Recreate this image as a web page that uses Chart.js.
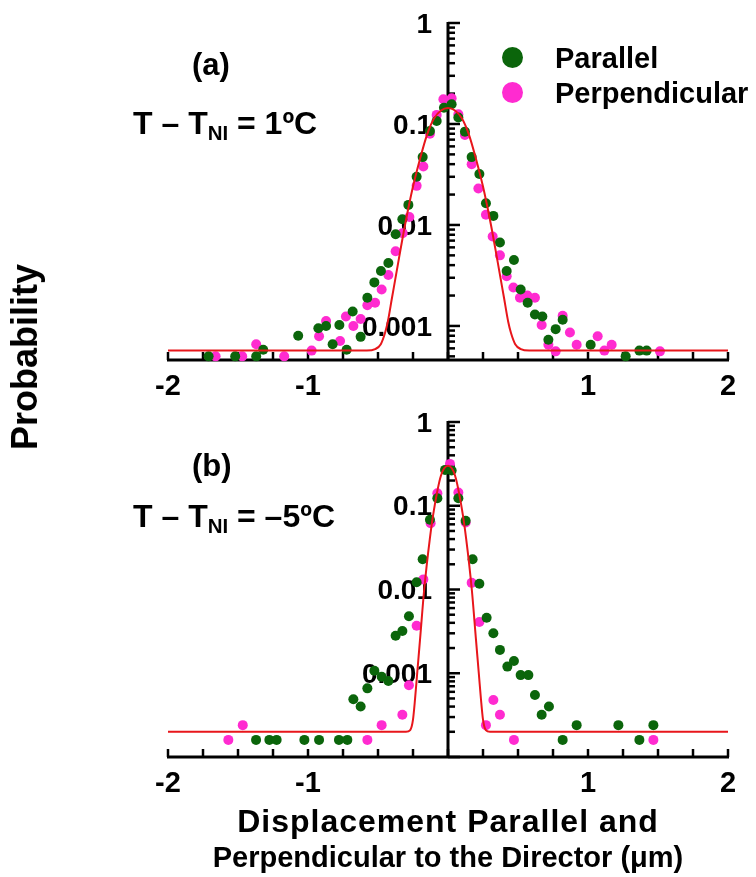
<!DOCTYPE html>
<html>
<head>
<meta charset="utf-8">
<script src="https://cdn.jsdelivr.net/npm/chart.js@4.4.1/dist/chart.umd.min.js"></script>
<style>
  html, body { margin: 0; padding: 0; background: #fff; }
  #page { position: relative; width: 756px; height: 877px; overflow: hidden;
          font-family: "Liberation Sans", Arial, sans-serif; font-weight: bold; color: #000; }
  canvas { position: absolute; left: 0; }
  .txt { position: absolute; white-space: nowrap; line-height: 1; }
  .txt sub { font-size: 0.64em; vertical-align: -0.28em; line-height: 0; }
  .dot { position: absolute; width: 21px; height: 21px; border-radius: 50%; }
</style>
</head>
<body>
<div id="page">
  <canvas id="chartA" width="756" height="410" style="top:0px"></canvas>
  <canvas id="chartB" width="756" height="415" style="top:395px"></canvas>

  <div class="txt" style="left:192px; top:49px; font-size:31px">(a)</div>
  <div class="txt" style="left:133px; top:107px; font-size:32px">T – T<sub>NI</sub> = 1ºC</div>
  <div class="txt" style="left:192px; top:450px; font-size:31px">(b)</div>
  <div class="txt" style="left:133px; top:500px; font-size:32px">T – T<sub>NI</sub> = –5ºC</div>

  <div class="dot" style="left:502px; top:47px; background:#0b650b"></div>
  <div class="txt" style="left:555px; top:44px; font-size:29px">Parallel</div>
  <div class="dot" style="left:502px; top:82px; background:#ff2bd0"></div>
  <div class="txt" style="left:555px; top:79px; font-size:29px">Perpendicular</div>

  <div class="txt" style="left:25px; top:357px; font-size:36px; transform: translate(-50%, -50%) rotate(-90deg)">Probability</div>
  <div class="txt" style="left:0px; width:896px; text-align:center; top:805px; font-size:32px; letter-spacing:1px">Displacement Parallel and</div>
  <div class="txt" style="left:0px; width:896px; text-align:center; top:843px; font-size:29px">Perpendicular to the Director (μm)</div>
</div>

<script>
// tick labels
const xTickValues = [-2, -1, 1, 2];
const xTickLabels = ['-2', '-1', '1', '2'];
const yTickValues = [1, 0.1, 0.01, 0.001];
const yTickLabels = ['1', '0.1', '0.01', '0.001'];

// (a) T - TNI = 1 C
const parAx = [-1.71, -1.52, -1.37, -1.32, -1.07, -0.926, -0.871, -0.824, -0.776, -0.724, -0.681, -0.624,
  -0.576, -0.526, -0.479, -0.426, -0.374, -0.326, -0.283, -0.224, -0.181, -0.129, -0.081, -0.029,
  0.026, 0.074, 0.121, 0.169, 0.224, 0.271, 0.324, 0.371, 0.419, 0.471, 0.519, 0.569, 0.621, 0.674,
  0.717, 0.769, 0.819, 1.019, 1.269, 1.367, 1.419];
const parAy = [0.0005, 0.0005, 0.0005, 0.00058, 0.0008, 0.00095, 0.001, 0.00066, 0.00102, 0.00058, 0.00139, 0.00078,
  0.0019, 0.0027, 0.0035, 0.0042, 0.0081, 0.0114, 0.0158, 0.030, 0.047, 0.085, 0.107, 0.145,
  0.157, 0.116, 0.084, 0.047, 0.032, 0.0164, 0.0123, 0.0067, 0.0035, 0.0045, 0.0023, 0.0017, 0.0013, 0.00124,
  0.00073, 0.00093, 0.00115, 0.00065, 0.0005, 0.00057, 0.00057];

const perpAx = [-1.66, -1.47, -1.37, -1.17, -0.974, -0.921, -0.871, -0.771, -0.729, -0.676, -0.624, -0.576,
  -0.521, -0.474, -0.426, -0.374, -0.324, -0.276, -0.224, -0.176, -0.129, -0.081, -0.033,
  0.026, 0.074, 0.121, 0.169, 0.217, 0.271, 0.319, 0.371, 0.419, 0.467, 0.514, 0.567, 0.621, 0.669,
  0.717, 0.769, 0.819, 0.871, 0.919, 1.069, 1.117, 1.169, 1.514];
const perpAy = [0.0005, 0.0005, 0.00066, 0.0005, 0.00057, 0.00079, 0.00112, 0.00071, 0.00124, 0.001, 0.00117, 0.0016,
  0.0017, 0.0023, 0.0032, 0.0055, 0.0083, 0.012, 0.0244, 0.038, 0.08, 0.123, 0.176,
  0.18, 0.125, 0.078, 0.040, 0.023, 0.0126, 0.0077, 0.005, 0.0031, 0.0024, 0.0019, 0.002, 0.0019, 0.00102,
  0.00065, 0.00056, 0.00126, 0.00086, 0.00065, 0.00079, 0.00057, 0.00065, 0.00056];

const fitAx = [-2, -0.58, -0.52, -0.48, -0.45, -0.43, -0.4, -0.35, -0.307, -0.25, -0.2, -0.15, -0.1, -0.05, 0,
  0.05, 0.1, 0.15, 0.2, 0.25, 0.307, 0.35, 0.4, 0.43, 0.45, 0.48, 0.52, 0.58, 2];
const fitAy = [0.00057, 0.00057, 0.00059, 0.00066, 0.00085, 0.0011, 0.0019, 0.0047, 0.01, 0.024, 0.045, 0.078, 0.113, 0.136, 0.144,
  0.136, 0.113, 0.078, 0.045, 0.024, 0.01, 0.0047, 0.0019, 0.0011, 0.00085, 0.00066, 0.00059, 0.00057, 0.00057];

// (b) T - TNI = -5 C
const parBx = [-1.371, -1.276, -1.224, -1.026, -0.921, -0.779, -0.719, -0.676, -0.624, -0.576, -0.526, -0.474,
  -0.426, -0.374, -0.326, -0.279, -0.224, -0.181, -0.129, -0.076, -0.021, 0.026, 0.074, 0.126, 0.176,
  0.224, 0.276, 0.324, 0.371, 0.424, 0.471, 0.519, 0.574, 0.621, 0.669, 0.721, 0.819, 0.919, 1.217, 1.367, 1.467];
const parBy = [0.00016, 0.00016, 0.00016, 0.00016, 0.00016, 0.00016, 0.00016, 0.00049, 0.0004, 0.00066, 0.00107, 0.00091,
  0.00081, 0.0028, 0.0032, 0.0048, 0.0122, 0.023, 0.068, 0.123, 0.268, 0.263, 0.123, 0.066, 0.023,
  0.0117, 0.0046, 0.0030, 0.0019, 0.0012, 0.0014, 0.00095, 0.00095, 0.00055, 0.00032, 0.0004, 0.00016, 0.00024, 0.00024, 0.00016, 0.00024];

const perpBx = [-1.569, -1.466, -0.576, -0.474, -0.326, -0.279, -0.224, -0.176, -0.124, -0.076, 0.014, 0.074,
  0.126, 0.169, 0.224, 0.271, 0.324, 0.371, 0.471, 1.467];
const perpBy = [0.00016, 0.00024, 0.00016, 0.00024, 0.00032, 0.00072, 0.0037, 0.0132, 0.062, 0.141, 0.316, 0.144,
  0.063, 0.012, 0.0041, 0.00024, 0.00048, 0.00032, 0.00016, 0.00016];

const fitBx = [-2, -0.3, -0.27, -0.25, -0.235, -0.22, -0.2, -0.17, -0.13, -0.1, -0.05, 0,
  0.05, 0.1, 0.13, 0.17, 0.2, 0.22, 0.235, 0.25, 0.27, 0.3, 2];
const fitBy = [0.0002, 0.0002, 0.00021, 0.00028, 0.0005, 0.001, 0.0025, 0.01, 0.04, 0.09, 0.23, 0.3,
  0.23, 0.09, 0.04, 0.01, 0.0025, 0.001, 0.0005, 0.00028, 0.00021, 0.0002, 0.0002];

const GREEN = '#0b650b';
const PINK = '#ff2bd0';
const RED = '#e8161b';
const FONT = '"Liberation Sans", Arial, sans-serif';

function toPoints(xs, ys) {
  return xs.map((v, i) => ({ x: v, y: ys[i] }));
}

// axes crossing at x = 0, ticks pointing into the plot
const crossAxes = {
  id: 'crossAxes',
  beforeDatasetsDraw(chart) {
    const { ctx, chartArea } = chart;
    const xs = chart.scales.x;
    const ys = chart.scales.y;
    const x0 = xs.getPixelForValue(0);
    ctx.save();
    ctx.strokeStyle = '#000';
    ctx.fillStyle = '#000';
    ctx.lineCap = 'butt';

    // bottom axis
    ctx.lineWidth = 3;
    ctx.beginPath();
    ctx.moveTo(chartArea.left - 1, chartArea.bottom);
    ctx.lineTo(chartArea.right + 1, chartArea.bottom);
    ctx.stroke();
    ctx.lineWidth = 2.5;
    for (let v = xs.min; v <= xs.max + 1e-9; v += 0.25) {
      const px = xs.getPixelForValue(v);
      ctx.beginPath();
      ctx.moveTo(px, chartArea.bottom);
      ctx.lineTo(px, chartArea.bottom - 8);
      ctx.stroke();
    }
    ctx.font = 'bold 29px ' + FONT;
    ctx.textAlign = 'center';
    ctx.textBaseline = 'middle';
    xTickValues.forEach((v, i) => {
      ctx.fillText(xTickLabels[i], xs.getPixelForValue(v), chartArea.bottom + 27);
    });

    // vertical axis at x = 0
    ctx.lineWidth = 3;
    ctx.beginPath();
    ctx.moveTo(x0, chartArea.top - 1);
    ctx.lineTo(x0, chartArea.bottom);
    ctx.stroke();
    ctx.lineWidth = 2.5;
    const d0 = Math.floor(Math.log10(ys.min));
    const d1 = Math.ceil(Math.log10(ys.max));
    for (let d = d0; d <= d1; d++) {
      for (let m = 1; m <= 9; m++) {
        const v = m * Math.pow(10, d);
        if (v < ys.min || v > ys.max * 1.0001) continue;
        const py = ys.getPixelForValue(v);
        ctx.beginPath();
        ctx.moveTo(x0, py);
        ctx.lineTo(x0 + (m === 1 ? 12 : 7), py);
        ctx.stroke();
      }
    }
    ctx.font = 'bold 28px ' + FONT;
    ctx.textAlign = 'right';
    yTickValues.forEach((v, i) => {
      if (v < ys.min || v > ys.max * 1.0001) return;
      ctx.fillText(yTickLabels[i], x0 - 16, ys.getPixelForValue(v) + 2);
    });
    ctx.restore();
  }
};

function makeChart(id, par, perp, fit, yMin, yMax, pad) {
  return new Chart(document.getElementById(id), {
    type: 'scatter',
    data: {
      datasets: [
        { label: 'Fit', type: 'line', data: fit, borderColor: RED, borderWidth: 2, pointRadius: 0,
          cubicInterpolationMode: 'monotone', fill: false, order: 1, clip: false },
        { label: 'Parallel', data: par, backgroundColor: GREEN, borderWidth: 0, pointRadius: 5, order: 2, clip: false },
        { label: 'Perpendicular', data: perp, backgroundColor: PINK, borderWidth: 0, pointRadius: 5, order: 3, clip: false }
      ]
    },
    options: {
      responsive: false,
      animation: false,
      layout: { padding: pad },
      plugins: { legend: { display: false }, tooltip: { enabled: false } },
      scales: {
        x: { type: 'linear', min: -2, max: 2, display: false },
        y: { type: 'logarithmic', min: yMin, max: yMax, display: false }
      }
    },
    plugins: [crossAxes]
  });
}

makeChart('chartA', toPoints(parAx, parAy), toPoints(perpAx, perpAy), toPoints(fitAx, fitAy),
  0.00046, 1, { left: 168, right: 28, top: 23, bottom: 50 });
makeChart('chartB', toPoints(parBx, parBy), toPoints(perpBx, perpBy), toPoints(fitBx, fitBy),
  0.0001, 1, { left: 168, right: 28, top: 27, bottom: 53 });
</script>
</body>
</html>
